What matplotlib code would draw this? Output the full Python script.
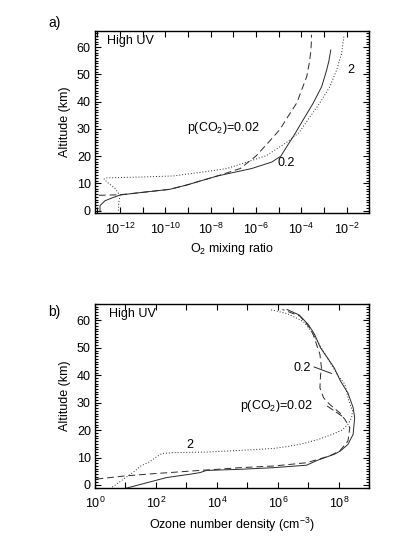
import numpy as np
import matplotlib
matplotlib.use("Agg")
import matplotlib.pyplot as plt
from matplotlib.ticker import LogLocator, FuncFormatter, MultipleLocator, NullLocator

plt.rcParams['font.family'] = ['Liberation Sans', 'DejaVu Sans']
plt.rcParams['mathtext.fontset'] = 'custom'
plt.rcParams['mathtext.rm'] = 'Liberation Sans'
plt.rcParams['mathtext.it'] = 'Liberation Sans'

# ---------------- Panel a: O2 mixing ratio ----------------
o2_alt_002 = [5.5, 5.8, 6.6, 7.8, 9.5, 11.0, 12.7, 15.4, 20.0, 25.0, 29.8, 35.0, 39.5, 45.0, 49.2, 54.0, 57.7, 61.0, 64.5]
o2_log_002 = [-13.4, -12.0, -11.1, -9.8, -9.0, -8.4, -7.7, -6.7, -6.0, -5.45, -4.94, -4.55, -4.2, -3.95, -3.76, -3.65, -3.59, -3.56, -3.55]

o2_alt_02 = [0.0, 1.8, 3.6, 4.8, 5.7, 6.6, 7.8, 9.5, 11.0, 12.7, 15.4, 17.8, 20.0, 24.0, 27.9, 33.4, 39.5, 45.5, 51.6, 55.0, 58.9]
o2_log_02 = [-12.88, -12.88, -12.66, -12.3, -12.0, -11.1, -9.8, -9.0, -8.4, -7.7, -6.2, -5.3, -4.9, -4.6, -4.3, -3.91, -3.47, -3.1, -2.88, -2.78, -2.7]

o2_alt_2 = [0.0, 3.0, 5.5, 8.0, 10.0, 11.5, 12.0, 12.3, 12.7, 14.3, 15.4, 17.8, 20.2, 25.0, 28.6, 33.4, 39.5, 45.5, 51.6, 57.7, 64.0]
o2_log_2 = [-12.07, -12.05, -12.0, -12.2, -12.5, -12.7, -12.6, -11.1, -9.65, -8.2, -7.3, -6.4, -5.53, -4.65, -4.1, -3.7, -3.18, -2.74, -2.44, -2.22, -2.12]

# ---------------- Panel b: Ozone number density ----------------
o3_alt_002 = [1.7, 3.3, 4.1, 5.3, 5.7, 6.3, 6.9, 8.1, 10.6, 12.4, 16.0, 20.9, 23.9, 26.3, 29.4, 31.8, 35.4, 40.0, 42.7, 47.6, 51.2, 54.9, 58.0, 61.6, 64.0]
o3_log_002 = [-0.3, 0.98, 1.91, 3.44, 4.0, 4.75, 5.85, 6.94, 7.7, 8.03, 8.3, 8.36, 8.2, 8.03, 7.7, 7.5, 7.38, 7.4, 7.43, 7.38, 7.27, 7.16, 7.0, 6.72, 6.15]

o3_alt_02 = [-1.3, 0.8, 2.7, 3.9, 4.5, 5.3, 5.7, 6.3, 7.2, 9.0, 11.2, 12.4, 14.8, 18.5, 24.5, 28.2, 33.5, 38.0, 42.7, 46.0, 50.0, 55.0, 58.5, 62.0, 64.0]
o3_log_02 = [0.98, 1.7, 2.35, 3.11, 3.44, 3.66, 4.75, 5.85, 6.94, 7.3, 7.85, 8.05, 8.3, 8.47, 8.52, 8.47, 8.3, 8.05, 7.85, 7.65, 7.4, 7.2, 7.0, 6.7, 6.3]

o3_alt_2 = [-1.4, 2.1, 5.0, 6.9, 8.5, 10.5, 11.5, 11.8, 12.0, 12.6, 13.3, 14.0, 15.0, 16.5, 18.5, 20.0, 22.1, 24.5, 27.0, 30.6, 36.7, 40.3, 48.8, 56.0, 59.7, 62.5, 64.0]
o3_log_2 = [0.49, 0.93, 1.3, 1.5, 1.8, 2.05, 2.2, 2.6, 3.66, 4.75, 5.85, 6.3, 6.8, 7.3, 7.8, 8.1, 8.3, 8.42, 8.45, 8.33, 8.2, 7.95, 7.49, 7.1, 6.83, 6.3, 5.74]

W, H = 399, 549
fig = plt.figure(figsize=(W / 100, H / 100), dpi=100)

FS = 9
col = '#2a2a2a'
DASH = (0, (7, 4))
DOT = (0, (1, 2))
lw = 0.7


def px_axes(left, top, right, bottom):
    return fig.add_axes([left / W, 1 - bottom / H, (right - left) / W, (bottom - top) / H])


def style_axes(ax, xlim):
    ax.set_xscale('log')
    ax.set_xlim(*xlim)
    ax.set_ylim(-1, 66)
    ax.xaxis.set_major_locator(LogLocator(base=10, subs=(1.0,), numticks=30))
    ax.xaxis.set_minor_locator(NullLocator())

    def fmt(v, pos):
        e = int(round(np.log10(v)))
        if e % 2 != 0:
            return ''
        return r'$10^{%d}$' % e
    ax.xaxis.set_major_formatter(FuncFormatter(fmt))
    ax.yaxis.set_major_locator(MultipleLocator(10))
    ax.yaxis.set_minor_locator(MultipleLocator(1))
    ax.tick_params(axis='both', which='both', direction='in', top=True, right=True,
                   labelsize=FS, width=0.8, colors='black')
    ax.tick_params(axis='both', which='major', length=4)
    ax.tick_params(axis='y', which='minor', length=2.2)
    ax.tick_params(axis='x', which='major', pad=6)
    ax.tick_params(axis='y', which='major', pad=3)
    for s in ax.spines.values():
        s.set_linewidth(1.0)
    ax.set_ylabel('Altitude (km)', fontsize=FS, labelpad=4)


# Panel a
ax1 = px_axes(95, 30.7, 369.3, 213.3)
style_axes(ax1, (10 ** -13.1, 10 ** -1.0))
ax1.plot(10.0 ** np.array(o2_log_002), o2_alt_002, color=col, lw=lw, ls=DASH)
ax1.plot(10.0 ** np.array(o2_log_02), o2_alt_02, color=col, lw=lw, ls='-')
ax1.plot(10.0 ** np.array(o2_log_2), o2_alt_2, color=col, lw=lw, ls=DOT)
ax1.set_xlabel(r'O$_2$ mixing ratio', fontsize=FS, labelpad=3)
ax1.text(10 ** -12.55, 62.3, 'High UV', fontsize=FS, ha='left', va='center')
ax1.text(10 ** -9.05, 30.4, r'p(CO$_2$)=0.02', fontsize=FS, ha='left', va='center')
ax1.text(10 ** -4.65, 17.6, '0.2', fontsize=FS, ha='center', va='center')
ax1.text(10 ** -1.95, 51.6, '2', fontsize=FS, ha='left', va='center')
fig.text(48 / W, 1 - 23 / H, 'a)', fontsize=FS + 1, ha='left', va='center')

# Panel b
ax2 = px_axes(95, 304, 369.3, 487.7)
style_axes(ax2, (1.0, 1e9))
ax2.plot(10.0 ** np.array(o3_log_002), o3_alt_002, color=col, lw=lw, ls=DASH)
ax2.plot(10.0 ** np.array(o3_log_02), o3_alt_02, color=col, lw=lw, ls='-')
ax2.plot(10.0 ** np.array(o3_log_2), o3_alt_2, color=col, lw=lw, ls=DOT)
ax2.set_xlabel(r'Ozone number density (cm$^{-3}$)', fontsize=FS, labelpad=3)
ax2.text(10 ** 0.45, 62.3, 'High UV', fontsize=FS, ha='left', va='center')
ax2.text(10 ** 6.5, 42.7, '0.2', fontsize=FS, ha='left', va='center')
ax2.annotate('', xy=(10 ** 7.85, 40.3), xytext=(10 ** 7.1, 43.4),
             arrowprops=dict(arrowstyle='-', color=col, lw=0.7))
ax2.text(10 ** 4.75, 28.8, r'p(CO$_2$)=0.02', fontsize=FS, ha='left', va='center')
ax2.annotate('', xy=(10 ** 8.25, 24.0), xytext=(10 ** 7.55, 29.3),
             arrowprops=dict(arrowstyle='-', color=col, lw=0.7, ls=DASH))
ax2.text(10 ** 3.11, 14.6, '2', fontsize=FS, ha='center', va='center')
fig.text(48 / W, 1 - 312 / H, 'b)', fontsize=FS + 1, ha='left', va='center')

fig.savefig('out.png', dpi=100)
